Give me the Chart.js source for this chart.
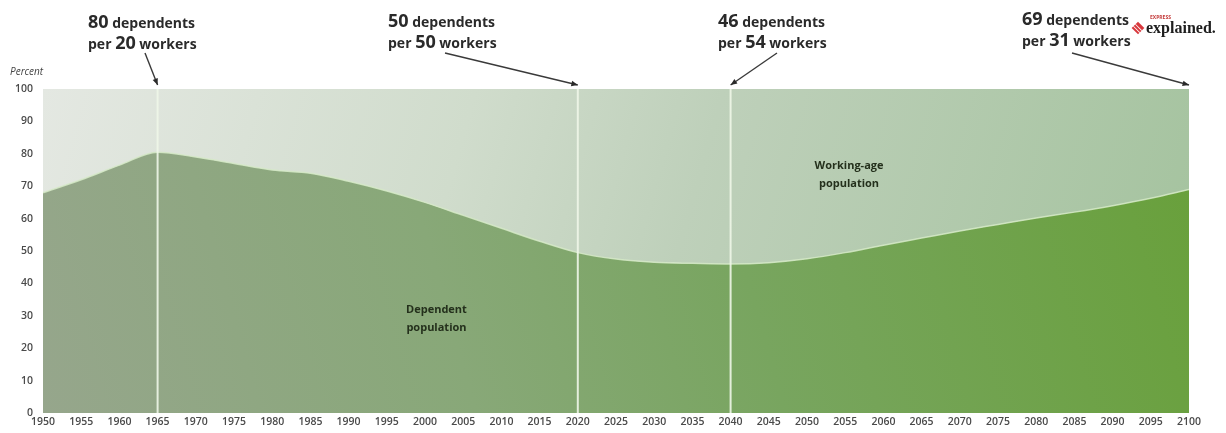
<!DOCTYPE html>
<html>
<head>
<meta charset="utf-8">
<script src="https://cdn.jsdelivr.net/npm/chart.js@4/dist/chart.umd.min.js"></script>
<style>
  html, body { margin: 0; padding: 0; background: #fff; }
  #chart { display: block; }
</style>
</head>
<body>
<canvas id="chart" width="1226" height="433"></canvas>
<script>
// data (percent of population)
const years = [1950,1955,1960,1965,1970,1975,1980,1985,1990,1995,2000,2005,2010,2015,2020,2025,2030,2035,2040,2045,2050,2055,2060,2065,2070,2075,2080,2085,2090,2095,2100];
const dependentShare = [68,72,76.5,80.5,79,77,75,74,71.5,68.5,65,61,57,53,49.5,47.5,46.5,46.2,46,46.4,47.6,49.5,51.8,54,56.2,58.2,60.2,62,64,66.3,69];
const workingShare = dependentShare.map(v => 100 - v);
const yTicks = [0,10,20,30,40,50,60,70,80,90,100];
const markerYears = [1965, 2020, 2040, 2100];
const markerNotes = [
    ["80", "dependents", "20", "workers"],
    ["50", "dependents", "50", "workers"],
    ["46", "dependents", "54", "workers"],
    ["69", "dependents", "31", "workers"]
];
const areaLabels = [
    { text: ["Dependent", "population"], year: 2001.5, pct: 29 },
    { text: ["Working-age", "population"], year: 2055.5, pct: 73.5 }
];

const FONT = "'Open Sans', 'DejaVu Sans', sans-serif";

function depGradient(context) {
    const { chart } = context;
    const area = chart.chartArea;
    if (!area) return 'rgb(125,165,105)';
    const g = chart.ctx.createLinearGradient(area.left, area.bottom, area.right, area.top);
    g.addColorStop(0, 'rgb(150,166,140)');
    g.addColorStop(0.35, 'rgb(136,168,120)');
    g.addColorStop(0.6, 'rgb(120,165,95)');
    g.addColorStop(1, 'rgb(104,160,58)');
    return g;
}

function workGradient(context) {
    const { chart } = context;
    const area = chart.chartArea;
    if (!area) return 'rgb(200,215,196)';
    const g = chart.ctx.createLinearGradient(area.left, area.top, area.right, area.bottom);
    g.addColorStop(0, 'rgb(228,232,226)');
    g.addColorStop(0.35, 'rgb(208,220,204)');
    g.addColorStop(0.55, 'rgb(190,208,186)');
    g.addColorStop(1, 'rgb(163,194,157)');
    return g;
}

function arrow(ctx, x1, y1, x2, y2) {
    const a = Math.atan2(y2 - y1, x2 - x1);
    ctx.beginPath();
    ctx.moveTo(x1, y1);
    ctx.lineTo(x2, y2);
    ctx.stroke();
    ctx.beginPath();
    ctx.moveTo(x2, y2);
    ctx.lineTo(x2 - 7 * Math.cos(a - 0.4), y2 - 7 * Math.sin(a - 0.4));
    ctx.lineTo(x2 - 7 * Math.cos(a + 0.4), y2 - 7 * Math.sin(a + 0.4));
    ctx.closePath();
    ctx.fill();
}

// draws "NN word" pieces with mixed sizes on one baseline
function mixedLine(ctx, parts, x, y) {
    parts.forEach(p => {
        ctx.font = 'bold ' + p[1] + 'px ' + FONT;
        ctx.fillText(p[0], x, y);
        x += ctx.measureText(p[0]).width;
    });
}

const overlay = {
    id: 'overlay',
    afterDatasetsDraw(chart) {
        const { ctx, chartArea } = chart;
        const xs = chart.scales.x, ys = chart.scales.y;

        // white vertical marker lines
        ctx.save();
        ctx.strokeStyle = 'rgba(238,246,232,0.9)';
        ctx.lineWidth = 2;
        markerYears.slice(0, 3).forEach(yr => {
            const x = xs.getPixelForValue(yr);
            ctx.beginPath();
            ctx.moveTo(x, chartArea.top);
            ctx.lineTo(x, chartArea.bottom);
            ctx.stroke();
        });
        ctx.restore();

        // area labels
        ctx.save();
        ctx.fillStyle = '#24301c';
        ctx.font = 'bold 11px ' + FONT;
        ctx.textAlign = 'center';
        ctx.textBaseline = 'middle';
        areaLabels.forEach(l => {
            const x = xs.getPixelForValue(l.year);
            const y = ys.getPixelForValue(l.pct);
            ctx.fillText(l.text[0], x, y - 9);
            ctx.fillText(l.text[1], x, y + 9);
        });
        ctx.restore();

        // annotations with arrows
        const textLeft = [88, 388, 718, 1022];
        const lineTop = [28, 27, 27, 25];
        const arrowFrom = [[145, 53], [445, 53], [777, 53], [1072, 53]];
        ctx.save();
        ctx.fillStyle = '#2a2a2a';
        ctx.strokeStyle = '#3a3a3a';
        ctx.lineWidth = 1.4;
        ctx.textBaseline = 'alphabetic';
        markerNotes.forEach((n, i) => {
            mixedLine(ctx, [[n[0], 18], [' ' + n[1], 14]], textLeft[i], lineTop[i]);
            mixedLine(ctx, [['per ', 14], [n[2], 18], [' ' + n[3], 14]], textLeft[i], lineTop[i] + 21);
            const tx = xs.getPixelForValue(markerYears[i]);
            const ty = ys.getPixelForValue(100) - 4;
            arrow(ctx, arrowFrom[i][0], arrowFrom[i][1], tx, ty);
        });
        ctx.restore();

        // "Percent" axis title
        ctx.save();
        ctx.fillStyle = '#444';
        ctx.font = 'italic 10px ' + FONT;
        ctx.fillText('Percent', 10, 75);
        ctx.restore();

        // express explained logo
        ctx.save();
        ctx.translate(1138, 28);
        ctx.rotate(Math.PI / 4);
        ctx.fillStyle = '#d8373c';
        ctx.fillRect(-4.5, -4.5, 9, 9);
        ctx.fillStyle = '#fff';
        ctx.fillRect(-4.5, -1.2, 9, 0.8);
        ctx.fillRect(-4.5, 1.6, 9, 0.8);
        ctx.restore();
        ctx.save();
        ctx.fillStyle = '#c43a3a';
        ctx.font = 'bold 5px ' + FONT;
        ctx.fillText('EXPRESS', 1150, 19);
        ctx.fillStyle = '#1e1e1e';
        ctx.font = 'bold 16px "Liberation Serif", serif';
        ctx.fillText('explained.', 1146, 33);
        ctx.restore();
    }
};

new Chart(document.getElementById('chart'), {
    type: 'line',
    data: {
        datasets: [
            {
                label: 'Dependent population',
                data: years.map((yr, i) => ({ x: yr, y: dependentShare[i] })),
                fill: 'origin',
                backgroundColor: depGradient,
                borderColor: 'rgba(214,234,200,0.85)',
                borderWidth: 1.5,
                pointRadius: 0,
                cubicInterpolationMode: 'monotone'
            },
            {
                label: 'Working-age population',
                data: years.map((yr, i) => ({ x: yr, y: workingShare[i] })),
                fill: '-1',
                backgroundColor: workGradient,
                borderWidth: 0,
                pointRadius: 0,
                cubicInterpolationMode: 'monotone'
            }
        ]
    },
    options: {
        responsive: false,
        animation: false,
        devicePixelRatio: 1,
        layout: { padding: { top: 89, right: 37, left: 0, bottom: 0 } },
        plugins: { legend: { display: false }, tooltip: { enabled: false } },
        scales: {
            x: {
                type: 'linear',
                min: 1950,
                max: 2100,
                grid: { display: false, drawTicks: false },
                border: { display: false },
                afterBuildTicks: s => { s.ticks = years.map(v => ({ value: v })); },
                afterFit: s => { s.height = 20; },
                ticks: {
                    autoSkip: false,
                    maxRotation: 0,
                    padding: 3,
                    color: '#4a4a4a',
                    font: { family: FONT, size: 10.5, weight: '600' },
                    callback: v => String(v)
                }
            },
            y: {
                stacked: true,
                min: 0,
                max: 100,
                grid: { display: false, drawTicks: false },
                border: { display: false },
                afterBuildTicks: s => { s.ticks = yTicks.map(v => ({ value: v })); },
                afterFit: s => { s.width = 43; },
                ticks: {
                    padding: 10,
                    color: '#4a4a4a',
                    font: { family: FONT, size: 10.5, weight: '600' },
                    callback: v => String(v)
                }
            }
        }
    },
    plugins: [overlay]
});
</script>
</body>
</html>
